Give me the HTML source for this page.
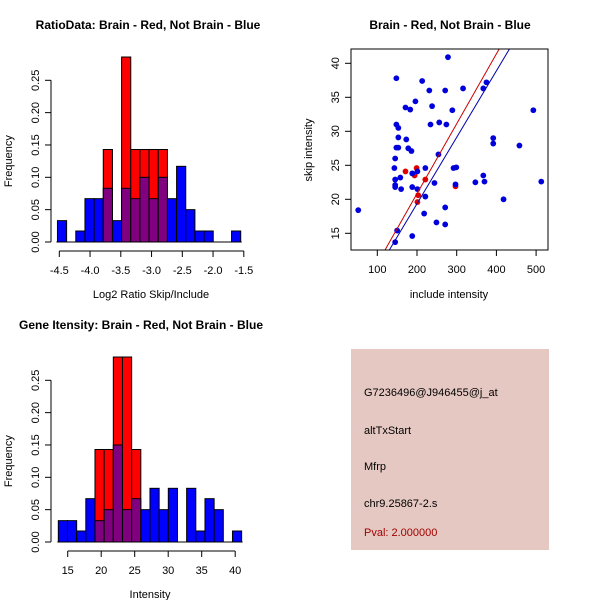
<!DOCTYPE html>
<html><head><meta charset="utf-8"><style>body{margin:0;background:#fff}svg{display:block}text{font-family:"Liberation Sans",sans-serif}</style></head>
<body>
<svg id="s" width="600" height="600" xmlns="http://www.w3.org/2000/svg">
<rect width="600" height="600" fill="#fff"/>
<text x="148" y="29" font-size="12" font-weight="bold" text-anchor="middle">RatioData: Brain - Red, Not Brain - Blue</text>
<text x="450" y="29" font-size="12" font-weight="bold" text-anchor="middle">Brain - Red, Not Brain - Blue</text>
<text x="141" y="329" font-size="12" font-weight="bold" text-anchor="middle">Gene Itensity: Brain - Red, Not Brain - Blue</text>
<rect x="351" y="349" width="198" height="201" fill="#e6c8c2"/>
<g font-size="11">
<text x="364" y="396">G7236496@J946455@j_at</text>
<text x="364" y="434">altTxStart</text>
<text x="364" y="470">Mfrp</text>
<text x="364" y="507">chr9.25867-2.s</text>
<text x="364" y="536" fill="#a00000">Pval: 2.000000</text>
</g>
</svg>
<script>
const ratioBlue=[0.033,0,0.017,0.067,0.067,0.083,0.033,0.083,0.067,0.1,0.067,0.1,0.067,0.117,0.05,0.017,0.017,0,0,0.017];
const ratioRed=[0,0,0,0,0,0.143,0,0.286,0.143,0.143,0.143,0.143,0,0,0,0,0,0,0,0];
const ratioTicks=[-4.5,-4.0,-3.5,-3.0,-2.5,-2.0,-1.5];
const intBlue=[0.033,0.033,0.017,0.067,0.033,0.05,0.15,0.05,0.067,0.05,0.083,0.05,0.083,0,0.083,0.017,0.067,0.05,0,0.017];
const intRed=[0,0,0,0,0.143,0.143,0.286,0.286,0.143,0,0,0,0,0,0,0,0,0,0,0];
const intTicks=[15,20,25,30,35,40];
const freqTicks=[0,0.05,0.10,0.15,0.20,0.25];
const blueX=[52,148,213,278,231,271,316,375,367,196,171,183,238,289,493,148,153,234,256,274,153,173,392,392,458,148,153,178,186,254,145,143,221,292,299,188,201,158,145,367,370,347,513,244,297,145,145,188,160,201,221,418,271,218,249,271,150,188,145];
const blueY=[18.4,37.8,37.4,40.9,36.0,36.0,36.3,37.2,36.3,34.4,33.5,33.2,33.7,33.1,33.1,31.0,30.5,31.0,31.3,31.0,29.1,28.8,29.0,28.2,27.9,27.6,27.6,27.5,27.1,26.6,26.0,24.6,24.6,24.6,24.7,23.8,24.1,23.2,22.9,23.5,22.6,22.5,22.6,22.4,22.2,22.1,21.8,21.8,21.5,21.5,20.4,20.0,18.8,17.9,16.6,16.3,15.4,14.6,13.7];
const redX=[171,199,194,221,203,201,297];
const redY=[24.1,24.6,23.5,22.9,20.6,19.6,21.9];
const redFit=[0.27,0.1028];
const blueFit=[-0.19,0.0977];
const xTicksS=[100,200,300,400,500];
const yTicksS=[15,20,25,30,35,40];

const S=document.getElementById('s');const NS='http://www.w3.org/2000/svg';
function mk(t,a,p){const e=document.createElementNS(NS,t);for(const k in a)e.setAttribute(k,a[k]);(p||S).appendChild(e);return e;}
function fmt2(v){return v.toFixed(2);}

function hist(o){
  const g=mk('g',{});
  
  
  const X=v=>o.x0+(v-o.v0)*o.sx, Y=v=>o.y0-v*o.sy;
  const n=o.blue.length;
  for(let i=0;i<n;i++){
    const a=o.start+i*o.bw,b=a+o.bw;
    const rb=o.red[i],bb=o.blue[i];
    if(rb>0){const r=mk('rect',{x:X(a),y:Y(rb),width:X(b)-X(a),height:Y(0)-Y(rb),fill:'#ff0000',stroke:'#000','stroke-width':1},g);
      
      }
    if(bb>0){const col=rb>0?'#800080':'#0000ff';
      if(rb>0&&bb>rb){mk('rect',{x:X(a),y:Y(bb),width:X(b)-X(a),height:Y(rb)-Y(bb),fill:'#0000ff',stroke:'#000','stroke-width':1},g);}
      const h=Math.min(bb,rb>0?rb:bb);
      const r=mk('rect',{x:X(a),y:Y(h),width:X(b)-X(a),height:Y(0)-Y(h),fill:col,stroke:'#000','stroke-width':1},g);
      
      }
  }
  const ax=51;
  mk('line',{x1:ax,x2:ax,y1:Y(0),y2:Y(0.25),stroke:'#000'},g);
  freqTicks.forEach(v=>{mk('line',{x1:ax,x2:ax-6,y1:Y(v),y2:Y(v),stroke:'#000'},g);
    const t=mk('text',{x:ax-12,y:Y(v),'font-size':11,'text-anchor':'middle',transform:`rotate(-90 ${ax-12} ${Y(v)})`},g);t.textContent=fmt2(v);});
  const yl=mk('text',{x:12,y:Y(0.125),'font-size':11,'text-anchor':'middle',transform:`rotate(-90 12 ${Y(0.125)})`},g);yl.textContent='Frequency';
  
  
  const ay=o.y0+9;
  mk('line',{x1:X(o.ticks[0]),x2:X(o.ticks[o.ticks.length-1]),y1:ay,y2:ay,stroke:'#000'},g);
  o.ticks.forEach(v=>{mk('line',{x1:X(v),x2:X(v),y1:ay,y2:ay+6,stroke:'#000'},g);
    const t=mk('text',{x:X(v),y:ay+23,'font-size':11,'text-anchor':'middle'},g);t.textContent=o.fmt(v);});
  const xl=mk('text',{x:o.xlx,y:o.y0+56,'font-size':11,'text-anchor':'middle'},g);xl.textContent=o.xlabel;
  
  
  mk('line',{x1:X(o.start)-1,x2:X(o.start+n*o.bw)+1,y1:Y(0),y2:Y(0),stroke:'#000'},g);
}
hist({name:'ratio-histogram',blue:ratioBlue,red:ratioRed,ticks:ratioTicks,x0:59.3,v0:-4.5,sx:61.5,y0:242,sy:646.8,start:-4.53,bw:0.149,fmt:v=>v.toFixed(1),xlabel:'Log2 Ratio Skip/Include',xlx:151});
hist({name:'intensity-histogram',blue:intBlue,red:intRed,ticks:intTicks,x0:67.7,v0:15,sx:6.7,y0:542,sy:646.8,start:13.6,bw:1.368,fmt:v=>String(v),xlabel:'Intensity',xlx:150});

const g=mk('g',{});


const L=351,R=548,T=49,B=250;
const sX=v=>377.3+(v-100)*0.397, sY=v=>233.3-(v-15)*6.8;
const cp=mk('clipPath',{id:'c'},g);mk('rect',{x:L,y:T,width:R-L,height:B-T},cp);
const cg=mk('g',{'clip-path':'url(#c)'},g);
redX.forEach((v,i)=>{const c=mk('circle',{cx:sX(v),cy:sY(redY[i]),r:2.9,fill:'#e00000'},cg);
  
  });
blueX.forEach((v,i)=>{const c=mk('circle',{cx:sX(v),cy:sY(blueY[i]),r:2.9,fill:'#0000dd'},cg);
  
  });
[[redFit,'#cc0000','red-fit-line'],[blueFit,'#0000aa','blue-fit-line']].forEach(([f,col,nm])=>{
  const l=mk('line',{x1:sX(0),y1:sY(f[0]),x2:sX(700),y2:sY(f[0]+f[1]*700),stroke:col,'stroke-width':1},cg);
  
  });
mk('rect',{x:L,y:T,width:R-L,height:B-T,fill:'none',stroke:'#000'},g);
xTicksS.forEach(v=>{mk('line',{x1:sX(v),x2:sX(v),y1:B,y2:B+6,stroke:'#000'},g);
  const t=mk('text',{x:sX(v),y:B+23,'font-size':11,'text-anchor':'middle'},g);t.textContent=v;});
yTicksS.forEach(v=>{mk('line',{x1:L,x2:L-6,y1:sY(v),y2:sY(v),stroke:'#000'},g);
  const t=mk('text',{x:L-12,y:sY(v),'font-size':11,'text-anchor':'middle',transform:`rotate(-90 ${L-12} ${sY(v)})`},g);t.textContent=v;});
const sxl=mk('text',{x:449,y:298,'font-size':11,'text-anchor':'middle'},g);sxl.textContent='include intensity';


const syl=mk('text',{x:312,y:150,'font-size':11,'text-anchor':'middle',transform:'rotate(-90 312 150)'},g);syl.textContent='skip intensity';


</script>
</body></html>
